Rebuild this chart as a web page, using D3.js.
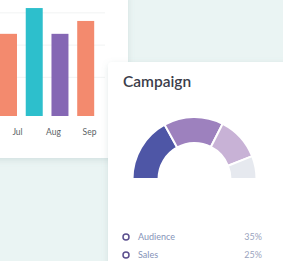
<!DOCTYPE html>
<html><head><meta charset="utf-8">
<script src="https://cdn.jsdelivr.net/npm/d3@7"></script>
<style>html,body{margin:0;padding:0;background:#eaf4f3;overflow:hidden}svg{display:block}</style>
</head><body>
<script>
// Bar chart data
const barCategories = ["Jun", "Jul", "Aug", "Sep"];
const barValues = [255, 335, 255, 295];
const barColors = ["#f38a6e", "#2dbfcc", "#8567b4", "#f38a6e"];
const monthLabels = ["Jul", "Aug", "Sep"];
const gridValues = [120, 220, 320];
// Campaign donut data
const campaignSegments = ["Audience", "Sales", "Leads", "Other"];
const campaignValues = [34, 31, 23, 12];
const campaignColors = ["#4e56a6", "#9d81be", "#c8b2d6", "#e6e9ef"];
const legendLabels = ["Audience", "Sales"];
const legendPercents = ["35%", "25%"];

const W = 283, H = 261;
const svg = d3.select("body").append("svg").attr("width", W).attr("height", H);
const defs = svg.append("defs");
const f = defs.append("filter").attr("id", "sh").attr("x", "-20%").attr("y", "-20%").attr("width", "140%").attr("height", "140%");
f.append("feDropShadow").attr("dx", 0).attr("dy", 2).attr("stdDeviation", 3).attr("flood-color", "#7a9a98").attr("flood-opacity", 0.22);

svg.append("rect").attr("width", W).attr("height", H).attr("fill", "#eaf4f3");

// Bar card
svg.append("rect").attr("x", -10).attr("y", -10).attr("width", 138).attr("height", 168)
  .attr("rx", 4).attr("fill", "#fff").attr("filter", "url(#sh)");

const x = d3.scaleBand().domain(barCategories).range([0, 94.2]).paddingInner(0.34).paddingOuter(0);
const y = d3.scaleLinear().domain([0, 360]).range([116, 0]);
const xl = d3.scalePoint().domain(monthLabels).range([17, 89]);

svg.append("g").selectAll("line").data(gridValues).join("line")
  .attr("x1", -5).attr("x2", 105).attr("y1", d => y(d)).attr("y2", d => y(d))
  .attr("stroke", "#f1f3f3").attr("stroke-width", 1);

svg.append("g").selectAll("rect").data(barValues).join("rect")
  .attr("x", (d, i) => x(barCategories[i])).attr("width", x.bandwidth())
  .attr("y", d => y(d)).attr("height", d => y(0) - y(d))
  .attr("fill", (d, i) => barColors[i]);

const xAxis = svg.append("g").attr("transform", "translate(0,129)")
  .call(d3.axisBottom(xl).tickSize(0).tickPadding(0));
xAxis.select(".domain").remove();
xAxis.selectAll("text").attr("font-family", "Lato, sans-serif").attr("font-size", 8.5)
  .attr("fill", "#5a5f66").attr("dy", "0.71em");

// Campaign card
svg.append("rect").attr("x", 108).attr("y", 62).attr("width", 200).attr("height", 230)
  .attr("rx", 4).attr("fill", "#fff").attr("filter", "url(#sh)");

svg.append("text").attr("x", 123).attr("y", 87).text("Campaign")
  .attr("font-family", "Lato, sans-serif").attr("font-size", 15.5).attr("font-weight", 600)
  .attr("fill", "#3b3d4a");

const pie = d3.pie().sort(null).startAngle(-Math.PI / 2).endAngle(Math.PI / 2);
const arc = d3.arc().innerRadius(36).outerRadius(62);
svg.append("g").attr("transform", "translate(194.5,179)")
  .selectAll("path").data(pie(campaignValues)).join("path")
  .attr("d", arc).attr("fill", (d, i) => campaignColors[i])
  .attr("stroke", "#fff").attr("stroke-width", 2);

const ly = d3.scalePoint().domain(legendLabels).range([237, 255]);
const lg = svg.append("g").selectAll("g").data(legendLabels).join("g")
  .attr("transform", d => `translate(0,${ly(d)})`);
lg.append("circle").attr("cx", 126).attr("cy", 0).attr("r", 3)
  .attr("fill", "none").attr("stroke", "#5b4f8e").attr("stroke-width", 1.5);
lg.append("text").attr("x", 138).attr("y", 0).attr("dy", "0.35em").text(d => d)
  .attr("font-family", "Lato, sans-serif").attr("font-size", 9).attr("fill", "#8593b8");
lg.append("text").attr("x", 262).attr("y", 0).attr("dy", "0.35em").attr("text-anchor", "end")
  .text((d, i) => legendPercents[i])
  .attr("font-family", "Lato, sans-serif").attr("font-size", 9).attr("fill", "#9aa3bd");
</script>
</body></html>
